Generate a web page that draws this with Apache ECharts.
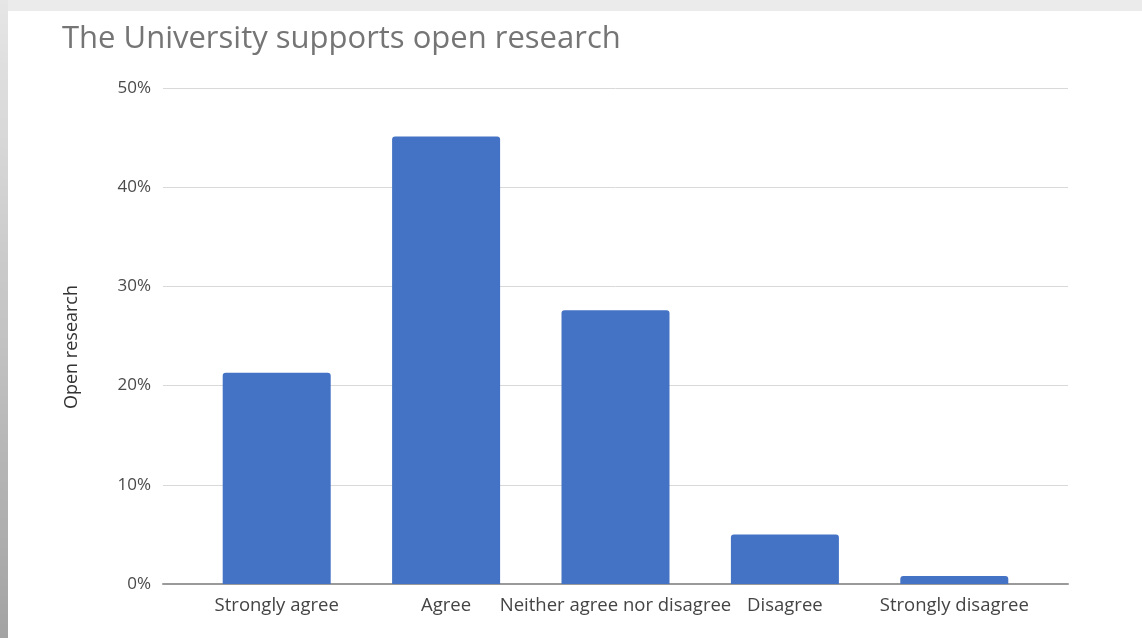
<!DOCTYPE html>
<html>
<head>
<meta charset="utf-8">
<script src="https://cdn.jsdelivr.net/npm/echarts@6/dist/echarts.min.js"></script>
<style>
  html, body { margin: 0; padding: 0; }
  body { width: 1142px; height: 638px; background: #ebebeb; position: relative; overflow: hidden; }
  #edge { position: absolute; left: 0; top: 0; width: 8px; height: 638px;
    background: linear-gradient(#e6e6e6, #a3a3a3); }
  #main { position: absolute; left: 8px; top: 11px; width: 1134px; height: 627px; background: #fff; }
</style>
</head>
<body>
<div id="edge"></div>
<div id="main"></div>
<script>
// 图表数据
const categories = ['Strongly agree', 'Agree', 'Neither agree nor disagree', 'Disagree', 'Strongly disagree'];
const shares = [21.3, 45.1, 27.6, 5.0, 0.8];
const yTicks = [0, 10, 20, 30, 40, 50];

const chart = echarts.init(document.getElementById('main'), null, { renderer: 'canvas' });

// main 相对页面的偏移
const offX = 8, offY = 11;

chart.setOption({
  animation: false,
  title: {
    text: 'The University supports open research',
    left: 57 - offX,
    top: 19 - offY,
    textStyle: { fontFamily: 'Open Sans', fontSize: 31, fontWeight: 'normal', color: '#757575' }
  },
  grid: [
    // 网格线与 y 轴
    { left: 163 - offX, right: 1142 - 1068, top: 88 - offY, bottom: 638 - 584 },
    // 柱子
    { left: 192 - offX, right: 1142 - 1039, top: 88 - offY, bottom: 638 - 584 }
  ],
  xAxis: [
    {
      gridIndex: 0, type: 'category', data: [''],
      axisLine: { lineStyle: { color: '#9a9a9a', width: 2 } },
      axisTick: { show: false }, axisLabel: { show: false }
    },
    {
      gridIndex: 1, type: 'category', data: categories,
      axisLine: { show: false }, axisTick: { show: false },
      axisLabel: { interval: 0, margin: 12, fontFamily: 'Open Sans', fontSize: 18.5, color: '#444' }
    }
  ],
  yAxis: [
    {
      gridIndex: 0, type: 'value', min: 0, max: 50, interval: 10,
      name: 'Open research', nameLocation: 'middle', nameGap: 82,
      nameTextStyle: { fontFamily: 'Open Sans', fontSize: 18, color: '#333', padding: [0, 22, 0, 0] },
      axisLine: { show: false }, axisTick: { show: false },
      axisLabel: { margin: 12, fontFamily: 'Open Sans', fontSize: 17, color: '#4a4a4a',
        formatter: v => yTicks.indexOf(v) >= 0 ? v + '%' : '' },
      splitLine: { lineStyle: { color: '#d9d9d9', width: 1 } }
    },
    {
      gridIndex: 1, type: 'value', min: 0, max: 50, interval: 10,
      axisLine: { show: false }, axisTick: { show: false },
      axisLabel: { show: false }, splitLine: { show: false }
    }
  ],
  series: [{
    type: 'bar',
    xAxisIndex: 1,
    yAxisIndex: 1,
    data: shares,
    barWidth: 108,
    itemStyle: { color: '#4472c4', borderRadius: [3, 3, 0, 0] }
  }]
});
</script>
</body>
</html>
